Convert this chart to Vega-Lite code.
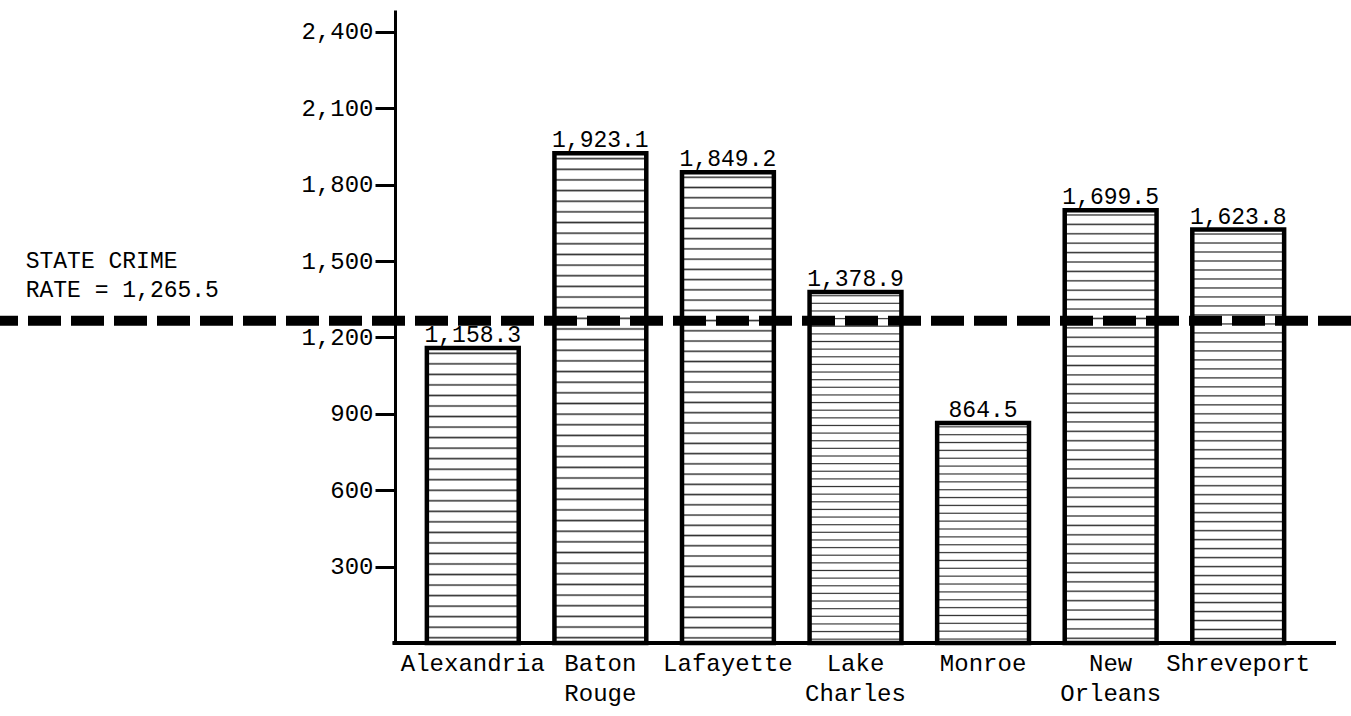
{
  "$schema": "https://vega.github.io/schema/vega-lite/v6.json",
  "width": 1351,
  "height": 633,
  "autosize": {"type": "none"},
  "padding": {"left": 0, "top": 10, "right": 0, "bottom": 73},
  "background": "white",
  "config": {"view": {"stroke": null}, "font": "Liberation Mono"},
  "data": {"values": [
    {"city": "Alexandria", "rate": 1158.3},
    {"city": "Baton Rouge", "rate": 1923.1},
    {"city": "Lafayette", "rate": 1849.2},
    {"city": "Lake Charles", "rate": 1378.9},
    {"city": "Monroe", "rate": 864.5},
    {"city": "New Orleans", "rate": 1699.5},
    {"city": "Shreveport", "rate": 1623.8}
  ]},
  "layer": [
    {
      "layer": [
        {
          "mark": {"type": "bar", "stroke": "black", "strokeWidth": 4.5},
          "encoding": {
            "x": {"field": "city", "type": "nominal", "sort": null,
              "scale": {"range": [409, 1302], "paddingInner": 0.28, "paddingOuter": 0.14, "align": 0.5},
              "axis": {"title": null, "domain": false, "ticks": false, "labelAngle": 0,
                "labelFont": "Liberation Mono", "labelFontSize": 24, "labelColor": "black",
                "labelPadding": 8, "labelLineHeight": 30, "labelExpr": "split(datum.label, ' ')"}},
            "y": {"field": "rate", "type": "quantitative",
              "scale": {"domain": [0, 2486], "nice": false},
              "axis": {"title": null, "orient": "left", "offset": -395, "grid": false,
                "values": [300, 600, 900, 1200, 1500, 1800, 2100, 2400], "format": ",.0f",
                "labelFont": "Liberation Mono", "labelFontSize": 24, "labelColor": "black",
                "labelPadding": 2, "tickSize": 20, "tickWidth": 3, "tickColor": "black",
                "domainWidth": 3, "domainColor": "black"}},
            "fill": {
              "condition": {"test": "datum.city === 'Alexandria' || datum.city === 'Monroe'",
                "value": {"gradient": "linear", "x1": 0, "y1": 0, "x2": 0, "y2": 1, "stops": [
                  {"offset":0,"color":"#fff"},
                  {"offset":0.0125,"color":"#fff"},{"offset":0.0179,"color":"#333"},{"offset":0.0232,"color":"#fff"},
                  {"offset":0.0482,"color":"#fff"},{"offset":0.0536,"color":"#333"},{"offset":0.0589,"color":"#fff"},
                  {"offset":0.0839,"color":"#fff"},{"offset":0.0893,"color":"#333"},{"offset":0.0946,"color":"#fff"},
                  {"offset":0.1196,"color":"#fff"},{"offset":0.1250,"color":"#333"},{"offset":0.1304,"color":"#fff"},
                  {"offset":0.1554,"color":"#fff"},{"offset":0.1607,"color":"#333"},{"offset":0.1661,"color":"#fff"},
                  {"offset":0.1911,"color":"#fff"},{"offset":0.1964,"color":"#333"},{"offset":0.2018,"color":"#fff"},
                  {"offset":0.2268,"color":"#fff"},{"offset":0.2321,"color":"#333"},{"offset":0.2375,"color":"#fff"},
                  {"offset":0.2625,"color":"#fff"},{"offset":0.2679,"color":"#333"},{"offset":0.2732,"color":"#fff"},
                  {"offset":0.2982,"color":"#fff"},{"offset":0.3036,"color":"#333"},{"offset":0.3089,"color":"#fff"},
                  {"offset":0.3339,"color":"#fff"},{"offset":0.3393,"color":"#333"},{"offset":0.3446,"color":"#fff"},
                  {"offset":0.3696,"color":"#fff"},{"offset":0.3750,"color":"#333"},{"offset":0.3804,"color":"#fff"},
                  {"offset":0.4054,"color":"#fff"},{"offset":0.4107,"color":"#333"},{"offset":0.4161,"color":"#fff"},
                  {"offset":0.4411,"color":"#fff"},{"offset":0.4464,"color":"#333"},{"offset":0.4518,"color":"#fff"},
                  {"offset":0.4768,"color":"#fff"},{"offset":0.4821,"color":"#333"},{"offset":0.4875,"color":"#fff"},
                  {"offset":0.5125,"color":"#fff"},{"offset":0.5179,"color":"#333"},{"offset":0.5232,"color":"#fff"},
                  {"offset":0.5482,"color":"#fff"},{"offset":0.5536,"color":"#333"},{"offset":0.5589,"color":"#fff"},
                  {"offset":0.5839,"color":"#fff"},{"offset":0.5893,"color":"#333"},{"offset":0.5946,"color":"#fff"},
                  {"offset":0.6196,"color":"#fff"},{"offset":0.6250,"color":"#333"},{"offset":0.6304,"color":"#fff"},
                  {"offset":0.6554,"color":"#fff"},{"offset":0.6607,"color":"#333"},{"offset":0.6661,"color":"#fff"},
                  {"offset":0.6911,"color":"#fff"},{"offset":0.6964,"color":"#333"},{"offset":0.7018,"color":"#fff"},
                  {"offset":0.7268,"color":"#fff"},{"offset":0.7321,"color":"#333"},{"offset":0.7375,"color":"#fff"},
                  {"offset":0.7625,"color":"#fff"},{"offset":0.7679,"color":"#333"},{"offset":0.7732,"color":"#fff"},
                  {"offset":0.7982,"color":"#fff"},{"offset":0.8036,"color":"#333"},{"offset":0.8089,"color":"#fff"},
                  {"offset":0.8339,"color":"#fff"},{"offset":0.8393,"color":"#333"},{"offset":0.8446,"color":"#fff"},
                  {"offset":0.8696,"color":"#fff"},{"offset":0.8750,"color":"#333"},{"offset":0.8804,"color":"#fff"},
                  {"offset":0.9054,"color":"#fff"},{"offset":0.9107,"color":"#333"},{"offset":0.9161,"color":"#fff"},
                  {"offset":0.9411,"color":"#fff"},{"offset":0.9464,"color":"#333"},{"offset":0.9518,"color":"#fff"},
                  {"offset":0.9768,"color":"#fff"},{"offset":0.9821,"color":"#333"},{"offset":0.9875,"color":"#fff"},
                  {"offset":1,"color":"#fff"}
                ]}},
              "value": {"gradient": "linear", "x1": 0, "y1": 0, "x2": 0, "y2": 1, "stops": [
                {"offset":0,"color":"#fff"},
                {"offset":0.0076,"color":"#fff"},{"offset":0.0109,"color":"#333"},{"offset":0.0141,"color":"#fff"},
                {"offset":0.0293,"color":"#fff"},{"offset":0.0326,"color":"#333"},{"offset":0.0359,"color":"#fff"},
                {"offset":0.0511,"color":"#fff"},{"offset":0.0543,"color":"#333"},{"offset":0.0576,"color":"#fff"},
                {"offset":0.0728,"color":"#fff"},{"offset":0.0761,"color":"#333"},{"offset":0.0793,"color":"#fff"},
                {"offset":0.0946,"color":"#fff"},{"offset":0.0978,"color":"#333"},{"offset":0.1011,"color":"#fff"},
                {"offset":0.1163,"color":"#fff"},{"offset":0.1196,"color":"#333"},{"offset":0.1228,"color":"#fff"},
                {"offset":0.1380,"color":"#fff"},{"offset":0.1413,"color":"#333"},{"offset":0.1446,"color":"#fff"},
                {"offset":0.1598,"color":"#fff"},{"offset":0.1630,"color":"#333"},{"offset":0.1663,"color":"#fff"},
                {"offset":0.1815,"color":"#fff"},{"offset":0.1848,"color":"#333"},{"offset":0.1880,"color":"#fff"},
                {"offset":0.2033,"color":"#fff"},{"offset":0.2065,"color":"#333"},{"offset":0.2098,"color":"#fff"},
                {"offset":0.2250,"color":"#fff"},{"offset":0.2283,"color":"#333"},{"offset":0.2315,"color":"#fff"},
                {"offset":0.2467,"color":"#fff"},{"offset":0.2500,"color":"#333"},{"offset":0.2533,"color":"#fff"},
                {"offset":0.2685,"color":"#fff"},{"offset":0.2717,"color":"#333"},{"offset":0.2750,"color":"#fff"},
                {"offset":0.2902,"color":"#fff"},{"offset":0.2935,"color":"#333"},{"offset":0.2967,"color":"#fff"},
                {"offset":0.3120,"color":"#fff"},{"offset":0.3152,"color":"#333"},{"offset":0.3185,"color":"#fff"},
                {"offset":0.3337,"color":"#fff"},{"offset":0.3370,"color":"#333"},{"offset":0.3402,"color":"#fff"},
                {"offset":0.3554,"color":"#fff"},{"offset":0.3587,"color":"#333"},{"offset":0.3620,"color":"#fff"},
                {"offset":0.3772,"color":"#fff"},{"offset":0.3804,"color":"#333"},{"offset":0.3837,"color":"#fff"},
                {"offset":0.3989,"color":"#fff"},{"offset":0.4022,"color":"#333"},{"offset":0.4054,"color":"#fff"},
                {"offset":0.4207,"color":"#fff"},{"offset":0.4239,"color":"#333"},{"offset":0.4272,"color":"#fff"},
                {"offset":0.4424,"color":"#fff"},{"offset":0.4457,"color":"#333"},{"offset":0.4489,"color":"#fff"},
                {"offset":0.4641,"color":"#fff"},{"offset":0.4674,"color":"#333"},{"offset":0.4707,"color":"#fff"},
                {"offset":0.4859,"color":"#fff"},{"offset":0.4891,"color":"#333"},{"offset":0.4924,"color":"#fff"},
                {"offset":0.5076,"color":"#fff"},{"offset":0.5109,"color":"#333"},{"offset":0.5141,"color":"#fff"},
                {"offset":0.5293,"color":"#fff"},{"offset":0.5326,"color":"#333"},{"offset":0.5359,"color":"#fff"},
                {"offset":0.5511,"color":"#fff"},{"offset":0.5543,"color":"#333"},{"offset":0.5576,"color":"#fff"},
                {"offset":0.5728,"color":"#fff"},{"offset":0.5761,"color":"#333"},{"offset":0.5793,"color":"#fff"},
                {"offset":0.5946,"color":"#fff"},{"offset":0.5978,"color":"#333"},{"offset":0.6011,"color":"#fff"},
                {"offset":0.6163,"color":"#fff"},{"offset":0.6196,"color":"#333"},{"offset":0.6228,"color":"#fff"},
                {"offset":0.6380,"color":"#fff"},{"offset":0.6413,"color":"#333"},{"offset":0.6446,"color":"#fff"},
                {"offset":0.6598,"color":"#fff"},{"offset":0.6630,"color":"#333"},{"offset":0.6663,"color":"#fff"},
                {"offset":0.6815,"color":"#fff"},{"offset":0.6848,"color":"#333"},{"offset":0.6880,"color":"#fff"},
                {"offset":0.7033,"color":"#fff"},{"offset":0.7065,"color":"#333"},{"offset":0.7098,"color":"#fff"},
                {"offset":0.7250,"color":"#fff"},{"offset":0.7283,"color":"#333"},{"offset":0.7315,"color":"#fff"},
                {"offset":0.7467,"color":"#fff"},{"offset":0.7500,"color":"#333"},{"offset":0.7533,"color":"#fff"},
                {"offset":0.7685,"color":"#fff"},{"offset":0.7717,"color":"#333"},{"offset":0.7750,"color":"#fff"},
                {"offset":0.7902,"color":"#fff"},{"offset":0.7935,"color":"#333"},{"offset":0.7967,"color":"#fff"},
                {"offset":0.8120,"color":"#fff"},{"offset":0.8152,"color":"#333"},{"offset":0.8185,"color":"#fff"},
                {"offset":0.8337,"color":"#fff"},{"offset":0.8370,"color":"#333"},{"offset":0.8402,"color":"#fff"},
                {"offset":0.8554,"color":"#fff"},{"offset":0.8587,"color":"#333"},{"offset":0.8620,"color":"#fff"},
                {"offset":0.8772,"color":"#fff"},{"offset":0.8804,"color":"#333"},{"offset":0.8837,"color":"#fff"},
                {"offset":0.8989,"color":"#fff"},{"offset":0.9022,"color":"#333"},{"offset":0.9054,"color":"#fff"},
                {"offset":0.9207,"color":"#fff"},{"offset":0.9239,"color":"#333"},{"offset":0.9272,"color":"#fff"},
                {"offset":0.9424,"color":"#fff"},{"offset":0.9457,"color":"#333"},{"offset":0.9489,"color":"#fff"},
                {"offset":0.9641,"color":"#fff"},{"offset":0.9674,"color":"#333"},{"offset":0.9707,"color":"#fff"},
                {"offset":0.9859,"color":"#fff"},{"offset":0.9891,"color":"#333"},{"offset":0.9924,"color":"#fff"},
                {"offset":1,"color":"#fff"}
              ]}
            }
          }
        },
        {
          "mark": {"type": "text", "baseline": "alphabetic", "dy": -6, "fontSize": 23, "font": "Liberation Mono", "color": "black"},
          "encoding": {
            "x": {"field": "city", "type": "nominal", "sort": null, "bandPosition": 0.5},
            "y": {"field": "rate", "type": "quantitative"},
            "text": {"field": "rate", "type": "quantitative", "format": ",.1f"}
          }
        },
        {
          "mark": {"type": "rule", "stroke": "black", "strokeWidth": 3.5},
          "encoding": {
            "x": {"datum": "Alexandria", "type": "nominal", "bandPosition": -0.37},
            "x2": {"datum": "Shreveport", "bandPosition": 1.56},
            "y": {"datum": 0, "type": "quantitative"}
          }
        }
      ]
    },
    {
      "data": {"values": [{"label": "STATE CRIME\nRATE = 1,265.5", "state": 1265.5, "pos": 0.019}]},
      "layer": [
        {
          "mark": {"type": "rule", "stroke": "black", "strokeWidth": 10, "strokeDash": [33, 10]},
          "encoding": {"y": {"field": "state", "type": "quantitative"}}
        },
        {
          "mark": {"type": "text", "align": "left", "baseline": "bottom", "lineBreak": "\n", "lineHeight": 29, "dy": -48, "fontSize": 23, "font": "Liberation Mono", "color": "black"},
          "encoding": {
            "x": {"field": "pos", "type": "quantitative", "scale": {"domain": [0, 1]}, "axis": null},
            "y": {"field": "state", "type": "quantitative"},
            "text": {"field": "label", "type": "nominal"}
          }
        }
      ]
    }
  ],
  "resolve": {"scale": {"x": "independent"}, "axis": {"x": "independent"}}
}
